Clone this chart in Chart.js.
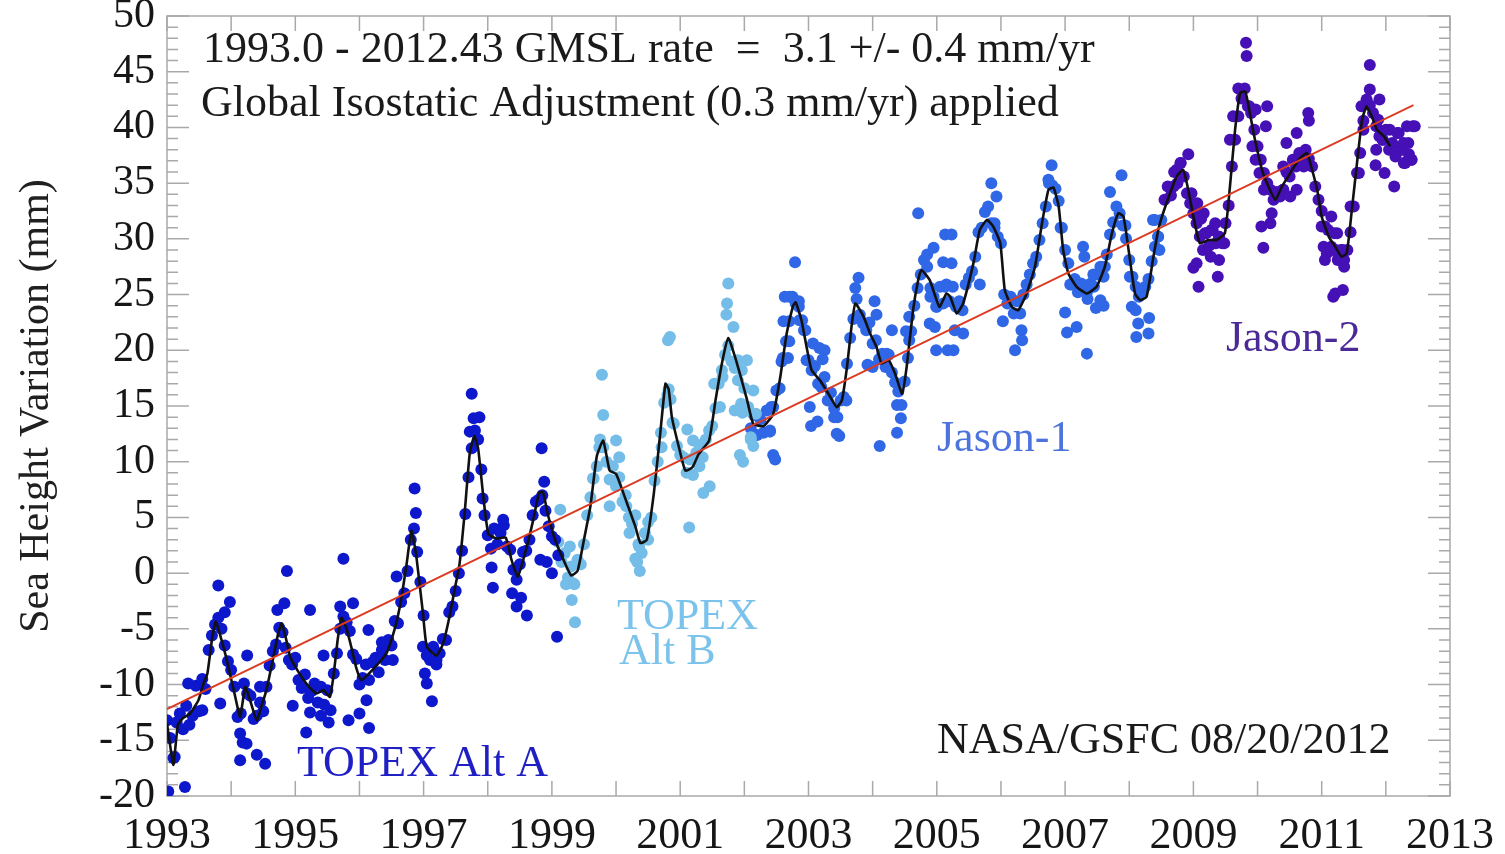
<!DOCTYPE html>
<html>
<head>
<meta charset="utf-8">
<title>Global Mean Sea Level 1993-2012</title>
<script src="https://cdn.jsdelivr.net/npm/chart.js@4.4.1/dist/chart.umd.min.js"></script>
<style>
  html, body { margin: 0; padding: 0; background: #fff; }
  canvas { display: block; }
</style>
</head>
<body>
<canvas id="gmsl" width="1505" height="854"></canvas>
<script>
// regular cycle samples are spaced this far apart (years)
var cycleStep = 0.05;

var xTickYears = [1993, 1995, 1997, 1999, 2001, 2003, 2005, 2007, 2009, 2011, 2013];
var yTickValues = [-20, -15, -10, -5, 0, 5, 10, 15, 20, 25, 30, 35, 40, 45, 50];

// TOPEX Alt A
var topexAStart = 1993.00;
var topexA = [
    -13.2, -14.8, -16.6, -13.4, -12.6, -14.0, -11.9, -13.6, -12.8, -10.1,
    -12.4, -9.5, -10.4, -6.9, -5.6, -4.6, -4.0, -5.0, -6.5, -7.9,
    -8.7, -10.2, -12.9, -12.6, -9.9, -10.8, -11.0, -13.1, -12.8, -11.6,
    -12.4, -10.2, -8.3, -7.0, -6.4, -4.9, -5.3, -6.7, -7.8, -8.2,
    -7.6, -9.6, -10.3, -9.1, -11.2, -10.6, -9.9, -11.6, -10.2, -11.8,
    -10.5, -12.3, -9.0, -7.2, -5.0, -3.9, -4.4, -5.2, -7.3, -7.7,
    -10.0, -9.4, -8.2, -9.6, -8.0, -7.6, -8.9, -6.9, -7.8, -6.0,
    -6.5, -4.3, -4.5, -2.6, -1.8, 0.2, 3.0, 4.0, 1.9, -0.8,
    -3.8, -7.4, -7.8, -6.6, -8.2, -7.2, -5.9, -6.0, -3.5, -3.0,
    -1.6, 0.0, 2.0, 5.3, 8.6, 11.2, 12.8, 12.0, 9.3, 5.2,
    3.4, 2.2, 4.0, 2.6, 3.6, 4.3, 2.4, 2.1, 0.3, -0.6,
    0.8, 1.9, 2.0, 3.0, 5.2, 6.4, 6.6, 7.0, 5.6, 4.2,
    3.3, 3.0, 1.6
];
var topexAExtra = [
    [1993.02, -19.6], [1993.28, -19.2], [1993.12, -16.5], [1993.33, -9.9], [1993.55, -12.3],
    [1993.80, -1.1], [1993.83, -11.7], [1993.98, -2.6], [1993.90, -3.5], [1994.14, -14.4],
    [1994.18, -15.2], [1994.24, -15.3], [1994.14, -16.8], [1994.40, -16.3], [1994.53, -17.1],
    [1994.25, -7.4], [1994.45, -10.2], [1994.87, 0.2], [1994.83, -2.7], [1994.72, -3.3],
    [1994.96, -11.9], [1995.17, -14.3], [1995.23, -12.5], [1995.23, -3.3], [1995.44, -7.4],
    [1995.52, -13.4], [1995.40, -12.8], [1995.75, 1.3], [1995.83, -13.2], [1995.90, -2.7],
    [1995.70, -3.0], [1996.00, -12.6], [1996.11, -11.4], [1996.15, -13.9], [1996.14, -5.1],
    [1996.35, -6.2], [1996.52, -7.8], [1996.58, -0.3], [1996.86, 7.6], [1996.88, 5.4],
    [1996.99, -6.6], [1997.02, -9.0], [1997.05, -9.9], [1997.13, -11.5], [1997.20, -7.8],
    [1997.75, 16.1], [1997.78, 13.9], [1997.87, 14.0], [1997.72, 12.7], [1997.92, 6.7],
    [1998.06, 0.5], [1998.08, -1.3], [1998.24, 4.8], [1998.38, -1.8], [1998.45, -3.0],
    [1998.61, -3.8], [1998.52, -2.2], [1998.84, 11.2], [1998.88, 8.2], [1998.82, 1.2],
    [1998.92, 1.0], [1999.00, 0.0], [1999.08, -5.7]
];

// TOPEX Alt B
var topexBStart = 1999.10;
var topexB = [
    2.8, 1.0, 1.8, -0.4, 0.6, -1.0, 1.2, 0.8, 2.6, 5.2,
    6.8, 8.5, 9.6, 12.0, 11.3, 10.0, 8.4, 9.6, 7.8, 8.6,
    6.4, 7.0, 5.0, 4.4, 5.2, 2.6, 1.8, 3.6, 4.6, 5.0,
    8.3, 10.0, 12.6, 15.3, 16.0, 15.6, 13.4, 11.4, 10.6, 10.4,
    9.0, 10.2, 8.8, 10.8, 11.5, 10.4, 12.0, 12.8, 13.2, 14.8,
    17.0, 18.2, 19.6, 20.4, 19.0, 18.4, 17.3, 15.2, 16.6, 14.6,
    12.2
];
var topexBExtra = [
    [1999.13, 5.7], [1999.28, 2.4], [1999.33, -0.9], [1999.31, -2.4], [1999.36, -4.4],
    [1999.22, -1.0], [1999.78, 17.8], [1999.80, 14.2], [1999.74, 11.3], [2000.00, 11.9],
    [2000.05, 10.4], [1999.64, 8.5], [1999.90, 6.0], [2000.16, 6.0], [2000.21, 3.6],
    [2000.36, 2.4], [2000.30, 1.3], [2000.37, 0.2], [2000.33, 1.0], [2000.50, 3.0],
    [2000.71, 11.3], [2000.82, 16.5], [2000.81, 20.9], [2000.84, 21.2], [2000.88, 13.5],
    [2001.11, 12.9], [2001.20, 11.9], [2001.30, 9.6], [2001.46, 7.8], [2001.36, 7.2],
    [2001.14, 4.1], [2001.53, 17.0], [2001.62, 14.9], [2001.66, 17.6], [2001.75, 26.0],
    [2001.73, 24.2], [2001.72, 23.2], [2001.83, 22.1], [2001.90, 19.1], [2001.96, 18.2],
    [2001.85, 14.6], [2001.97, 14.4], [2002.04, 19.1], [2002.14, 16.4], [2002.06, 14.9],
    [2002.18, 14.3], [2002.14, 11.4], [2001.93, 10.6], [2001.98, 10.0], [2002.10, 12.0]
];

// Jason-1
var jason1Start = 2002.10;
var jason1 = [
    13.0, 14.2, 12.4, 13.8, 12.6, 14.6, 12.8, 14.9, 16.4, 16.6,
    19.3, 20.8, 22.6, 24.8, 24.2, 23.9, 22.7, 21.8, 19.1, 18.2,
    18.6, 17.0, 16.7, 17.6, 15.5, 16.2, 14.8, 14.0, 15.5, 15.8,
    18.8, 21.1, 22.8, 24.6, 23.2, 22.4, 21.8, 22.5, 20.6, 20.9,
    19.2, 19.7, 18.5, 19.6, 18.0, 17.1, 16.3, 15.1, 17.2, 19.3,
    21.7, 24.0, 25.6, 26.8, 28.1, 27.5, 25.6, 24.8, 23.9, 25.7,
    24.2, 25.9, 24.4, 25.7, 23.9, 24.4, 23.6, 25.9, 26.5, 27.1,
    28.4, 30.6, 31.0, 32.4, 32.9, 31.4, 31.0, 30.2, 29.6, 25.0,
    24.2, 24.8, 23.3, 24.4, 23.3, 25.0, 25.9, 26.8, 27.8, 28.4,
    29.9, 31.4, 32.9, 35.0, 34.8, 34.5, 33.4, 31.0, 29.0, 27.8,
    25.9, 26.4, 25.2, 26.0, 25.4, 24.6, 26.0, 25.7, 26.8, 27.5,
    26.6, 28.6, 30.4, 31.5, 32.9, 32.3, 31.2, 30.0, 28.1, 26.6,
    25.7, 24.8, 25.2, 25.7, 26.4, 28.0, 29.3, 30.2, 31.7
];
var jason1Extra = [
    [2002.40, 12.7], [2002.45, 10.6], [2002.48, 10.2], [2002.42, 14.9], [2002.79, 27.9],
    [2002.63, 24.8], [2002.70, 24.8], [2002.85, 24.4], [2002.61, 22.6], [2002.70, 20.8],
    [2002.58, 19.0], [2002.68, 19.3], [2002.86, 22.7], [2002.93, 21.8], [2002.97, 19.1],
    [2003.07, 20.6], [2003.17, 20.2], [2003.25, 20.0], [2003.22, 19.2], [2003.02, 14.9],
    [2003.04, 13.2], [2003.14, 13.6], [2003.40, 14.0], [2003.48, 12.3], [2003.44, 12.5],
    [2003.59, 15.5], [2003.73, 25.6], [2003.78, 26.5], [2003.88, 22.4], [2004.03, 24.4],
    [2004.06, 23.2], [2003.92, 18.7], [2004.00, 18.5], [2004.22, 19.7], [2004.30, 21.8],
    [2004.38, 15.1], [2004.44, 13.9], [2004.38, 12.6], [2004.11, 11.4], [2004.52, 21.7],
    [2004.57, 20.9], [2004.57, 23.0], [2004.71, 32.3], [2004.85, 28.6], [2004.95, 29.2],
    [2005.13, 30.4], [2004.90, 24.8], [2004.99, 23.9], [2005.13, 25.7], [2005.10, 27.9],
    [2004.89, 22.4], [2004.97, 22.1], [2004.99, 20.0], [2005.17, 20.0], [2005.23, 30.4],
    [2005.23, 27.8], [2005.41, 21.5], [2005.28, 21.8], [2005.26, 20.0], [2005.85, 35.0],
    [2005.93, 33.8], [2005.90, 31.4], [2005.67, 25.9], [2006.03, 22.6], [2006.32, 21.8],
    [2006.33, 20.9], [2006.22, 20.0], [2006.79, 36.6], [2006.74, 35.3], [2006.93, 31.0],
    [2007.08, 25.9], [2007.00, 23.4], [2007.03, 21.6], [2007.18, 22.1], [2007.34, 19.7],
    [2007.28, 29.3], [2007.30, 28.4], [2007.44, 26.8], [2007.34, 25.2], [2007.62, 27.5],
    [2007.55, 24.5], [2007.60, 24.0], [2007.48, 23.8], [2007.88, 35.7], [2007.70, 34.2],
    [2007.94, 31.2], [2008.01, 26.6], [2008.04, 23.9], [2008.10, 23.6], [2008.14, 22.4],
    [2008.11, 21.2], [2008.31, 22.9], [2008.30, 21.5], [2008.37, 31.7], [2008.47, 29.0],
    [2008.40, 31.7], [2008.45, 30.2]
];

// Jason-2
var jason2Start = 2008.55;
var jason2 = [
    33.5, 34.7, 33.9, 36.0, 35.0, 36.8, 35.6, 34.1, 33.2, 32.3,
    31.4, 30.2, 29.0, 30.5, 29.4, 30.8, 29.6, 30.2, 29.6, 31.4,
    33.0, 36.5, 38.9, 41.0, 42.6, 43.5, 41.9, 41.3, 39.8, 38.3,
    37.1, 35.9, 35.0, 34.4, 33.5, 34.2, 33.8, 34.4, 36.0, 35.6,
    37.1, 36.5, 37.7, 37.1, 38.0, 37.2, 36.5, 34.7, 33.5, 32.5,
    31.1, 30.8, 29.3, 30.5, 28.7, 29.0, 28.1, 29.0, 30.6, 32.9,
    35.9, 37.7, 40.6, 42.5, 42.0, 41.3, 40.1, 39.2, 38.9, 39.8,
    38.0, 38.6, 37.4, 39.5, 38.0, 36.8, 38.6, 37.1, 40.1
];
var jason2Extra = [
    [2008.74, 36.2], [2008.80, 36.8], [2008.92, 37.6], [2008.69, 34.7], [2008.97, 34.1],
    [2009.06, 33.2], [2009.16, 32.3], [2009.12, 31.8], [2009.18, 30.5], [2009.28, 30.8],
    [2009.40, 30.2], [2009.34, 31.4], [2009.48, 29.6], [2009.00, 27.4], [2009.05, 27.8],
    [2009.08, 25.7], [2009.38, 26.6], [2009.40, 28.1], [2009.27, 28.4], [2009.57, 38.9],
    [2009.62, 41.0], [2009.70, 43.5], [2009.82, 47.6], [2009.83, 46.4], [2009.87, 41.9],
    [2009.97, 41.6], [2010.15, 41.9], [2010.13, 40.1], [2009.92, 38.3], [2009.97, 37.1],
    [2010.03, 35.9], [2010.10, 34.4], [2010.22, 32.3], [2010.20, 31.4], [2010.06, 31.1],
    [2010.09, 29.2], [2010.40, 36.5], [2010.45, 38.6], [2010.61, 39.5], [2010.79, 41.3],
    [2010.80, 40.6], [2010.72, 36.5], [2010.40, 34.4], [2010.51, 33.8], [2010.61, 34.4],
    [2011.00, 31.1], [2011.15, 32.0], [2011.24, 30.5], [2011.03, 29.3], [2011.08, 28.7],
    [2011.05, 28.1], [2011.22, 29.0], [2011.25, 28.1], [2011.33, 29.0], [2011.35, 27.5],
    [2011.18, 24.8], [2011.21, 25.1], [2011.33, 25.4], [2011.45, 32.9], [2011.58, 35.9],
    [2011.62, 41.9], [2011.75, 43.4], [2011.75, 45.6], [2011.90, 42.5], [2011.65, 39.8],
    [2011.88, 40.7], [2011.95, 38.9], [2012.06, 39.8], [2012.18, 39.5], [2012.33, 40.1],
    [2012.28, 38.6], [2012.23, 38.0], [2012.28, 36.8], [2012.13, 34.7], [2011.98, 35.9],
    [2011.84, 36.6], [2011.85, 38.0], [2012.42, 40.1], [2012.40, 37.1], [2012.36, 37.6]
];

// 60-day smoothed curve (black)
var smoothYears = [
    1993.00, 1993.05, 1993.10, 1993.17, 1993.25, 1993.36, 1993.49, 1993.57, 1993.63, 1993.70,
    1993.76, 1993.85, 1993.92, 1993.98, 1994.06, 1994.14, 1994.22, 1994.30, 1994.40, 1994.48,
    1994.55, 1994.66, 1994.73, 1994.79, 1994.86, 1994.92, 1995.02, 1995.13, 1995.23, 1995.33,
    1995.44, 1995.54, 1995.60, 1995.66, 1995.72, 1995.80, 1995.88, 1995.95, 1996.03, 1996.20,
    1996.42, 1996.55, 1996.63, 1996.73, 1996.81, 1996.88, 1996.99, 1997.05, 1997.20, 1997.30,
    1997.40, 1997.50, 1997.56, 1997.64, 1997.72, 1997.79, 1997.85, 1997.93, 1998.01, 1998.14,
    1998.28, 1998.37, 1998.47, 1998.61, 1998.71, 1998.80, 1998.86, 1998.94, 1999.05, 1999.18,
    1999.30, 1999.40, 1999.50, 1999.60, 1999.70, 1999.80, 1999.90, 2000.00, 2000.15, 2000.30,
    2000.38, 2000.48, 2000.59, 2000.69, 2000.77, 2000.82, 2000.87, 2000.98, 2001.08, 2001.19,
    2001.29, 2001.45, 2001.55, 2001.66, 2001.75, 2001.85, 2001.93, 2002.04, 2002.14, 2002.30,
    2002.45, 2002.56, 2002.66, 2002.76, 2002.80, 2002.89, 2002.97, 2003.05, 2003.18, 2003.31,
    2003.44, 2003.52, 2003.60, 2003.67, 2003.73, 2003.86, 2003.96, 2004.06, 2004.14, 2004.25,
    2004.35, 2004.46, 2004.53, 2004.63, 2004.71, 2004.76, 2004.89, 2005.04, 2005.15, 2005.21,
    2005.31, 2005.41, 2005.57, 2005.67, 2005.78, 2005.88, 2005.99, 2006.06, 2006.17, 2006.27,
    2006.40, 2006.53, 2006.64, 2006.74, 2006.82, 2006.90, 2006.97, 2007.05, 2007.18, 2007.34,
    2007.49, 2007.62, 2007.73, 2007.83, 2007.91, 2007.99, 2008.09, 2008.17, 2008.27, 2008.38,
    2008.46, 2008.58, 2008.74, 2008.84, 2008.92, 2009.00, 2009.10, 2009.23, 2009.36, 2009.49,
    2009.57, 2009.65, 2009.73, 2009.81, 2009.88, 2009.96, 2010.07, 2010.17, 2010.28, 2010.38,
    2010.51, 2010.64, 2010.77, 2010.85, 2010.93, 2011.00, 2011.11, 2011.21, 2011.31, 2011.39,
    2011.47, 2011.55, 2011.63, 2011.70, 2011.78, 2011.86, 2011.97, 2012.07
];
var smoothValues = [
    -13.5, -15.5, -17.2, -13.6, -13.0, -12.6, -11.4, -9.9, -9.0, -6.0,
    -4.3, -6.0, -7.5, -9.0, -11.0, -12.9, -10.2, -11.5, -13.2, -11.8,
    -10.5, -7.5, -5.5, -4.5, -6.0, -7.5, -8.6, -9.6, -10.3, -10.8,
    -10.5, -11.1, -9.0, -6.0, -4.0, -5.0, -6.8, -8.5, -9.6, -8.7,
    -7.2, -5.0, -3.0, 0.6, 3.8, 1.8, -3.6, -6.6, -7.4, -6.4,
    -4.0, -1.0, 0.8, 5.4, 10.8, 12.3, 11.2, 6.9, 3.5, 3.1,
    3.2, 1.2, -0.3, 2.4, 4.8, 7.2, 7.3, 5.2, 3.0, 1.2,
    -0.2, 0.2, 3.0, 6.0, 10.5, 11.9, 9.2, 8.9, 6.6, 4.2,
    2.7, 3.0, 7.2, 12.6, 17.0, 16.5, 14.0, 11.3, 9.2, 9.5,
    10.7, 11.9, 15.5, 19.1, 21.1, 19.5, 17.9, 15.6, 13.4, 13.2,
    14.3, 17.6, 21.5, 24.0, 24.3, 22.7, 20.3, 18.2, 17.3, 16.1,
    14.9, 15.5, 18.5, 22.1, 24.2, 23.0, 21.5, 20.3, 18.8, 19.1,
    17.9, 16.1, 18.5, 23.6, 26.3, 27.2, 26.3, 23.9, 25.1, 24.8,
    23.3, 24.2, 27.8, 30.8, 31.7, 31.1, 29.6, 25.4, 23.9, 23.6,
    25.1, 27.5, 31.4, 34.4, 34.6, 32.9, 29.0, 26.9, 25.7, 25.1,
    25.7, 27.5, 30.5, 32.3, 32.0, 29.0, 25.1, 24.5, 24.8, 28.5,
    31.0, 33.2, 35.6, 36.2, 34.4, 32.0, 29.6, 29.9, 29.9, 30.5,
    34.7, 39.8, 43.1, 43.2, 41.3, 38.9, 36.2, 34.7, 33.5, 34.7,
    35.9, 37.1, 37.7, 36.2, 34.4, 32.0, 30.2, 29.3, 28.4, 28.7,
    32.6, 36.8, 40.7, 41.9, 41.0, 39.8, 39.2, 38.3
];

// linear trend (red)
var trendYears = [1993.0, 2012.43];
var trendValues = [-12.2, 42.0];

var serif = "'Liberation Serif', 'Times New Roman', serif";

function cyclePoints(start, values, extra) {
    var pts = values.map(function(v, i) {
        return { x: +(start + i * cycleStep).toFixed(2), y: v };
    });
    extra.forEach(function(p) {
        pts.push({ x: p[0], y: p[1] });
    });
    return pts;
}

function pairs(xs, ys) {
    return xs.map(function(x, i) { return { x: x, y: ys[i] }; });
}

function dots(label, data, color) {
    return {
        label: label,
        data: data,
        showLine: false,
        pointRadius: 6,
        pointBorderWidth: 0,
        pointBackgroundColor: color,
        backgroundColor: color,
        order: 3
    };
}

var notes = [
    { text: '1993.0 - 2012.43 GMSL rate  =  3.1 +/- 0.4 mm/yr', x: 203, y: 62, color: '#1a1a1a' },
    { text: 'Global Isostatic Adjustment (0.3 mm/yr) applied', x: 201, y: 116, color: '#1a1a1a' },
    { text: 'NASA/GSFC 08/20/2012', x: 937, y: 753, color: '#1a1a1a' },
    { text: 'TOPEX Alt A', x: 297, y: 776, color: '#1f1fc4' },
    { text: 'TOPEX', x: 617, y: 629, color: '#7cc3ec' },
    { text: 'Alt B', x: 619, y: 664, color: '#7cc3ec' },
    { text: 'Jason-1', x: 937, y: 451, color: '#4d74dc' },
    { text: 'Jason-2', x: 1226, y: 351, color: '#4b2a98' }
];

var frame = {
    id: 'frame',
    beforeDatasetsDraw: function(chart) {
        var ctx = chart.ctx, a = chart.chartArea;
        var xs = chart.scales.x, ys = chart.scales.y;
        ctx.save();
        ctx.strokeStyle = '#a9a9a9';
        ctx.lineWidth = 1.5;
        ctx.strokeRect(a.left, a.top, a.right - a.left, a.bottom - a.top);
        ctx.beginPath();
        for (var yr = xs.min; yr <= xs.max; yr++) {
            var px = xs.getPixelForValue(yr);
            ctx.moveTo(px, a.bottom); ctx.lineTo(px, a.bottom - 15);
            ctx.moveTo(px, a.top); ctx.lineTo(px, a.top + 15);
        }
        for (var v = ys.min; v <= ys.max; v++) {
            var py = ys.getPixelForValue(v);
            var len = (v % 5 === 0) ? 22 : 11;
            ctx.moveTo(a.left, py); ctx.lineTo(a.left + len, py);
            ctx.moveTo(a.right, py); ctx.lineTo(a.right - len, py);
        }
        ctx.stroke();
        ctx.restore();
    },
    afterDraw: function(chart) {
        var ctx = chart.ctx;
        ctx.save();
        ctx.font = '44px ' + serif;
        ctx.textAlign = 'left';
        ctx.textBaseline = 'alphabetic';
        notes.forEach(function(n) {
            ctx.fillStyle = n.color;
            ctx.fillText(n.text, n.x, n.y);
        });
        ctx.restore();
    }
};

new Chart(document.getElementById('gmsl'), {
    type: 'scatter',
    data: {
        datasets: [
            {
                label: 'trend',
                type: 'line',
                data: pairs(trendYears, trendValues),
                borderColor: '#dc3b22',
                borderWidth: 1.8,
                pointRadius: 0,
                fill: false,
                order: 1
            },
            {
                label: 'smoothed',
                type: 'line',
                data: pairs(smoothYears, smoothValues),
                borderColor: '#111111',
                borderWidth: 2.6,
                borderJoinStyle: 'round',
                pointRadius: 0,
                tension: 0.15,
                fill: false,
                order: 2
            },
            dots('TOPEX Alt A', cyclePoints(topexAStart, topexA, topexAExtra), '#0d17cc'),
            dots('TOPEX Alt B', cyclePoints(topexBStart, topexB, topexBExtra), '#74bde8'),
            dots('Jason-1', cyclePoints(jason1Start, jason1, jason1Extra), '#2f67e6'),
            dots('Jason-2', cyclePoints(jason2Start, jason2, jason2Extra), '#4510b5')
        ]
    },
    options: {
        responsive: false,
        animation: false,
        layout: { padding: { top: 16, right: 55, left: 0, bottom: 0 } },
        plugins: {
            legend: { display: false },
            tooltip: { enabled: false }
        },
        scales: {
            x: {
                type: 'linear',
                min: xTickYears[0],
                max: xTickYears[xTickYears.length - 1],
                grid: { display: false, drawTicks: false },
                border: { display: false },
                afterBuildTicks: function(scale) {
                    scale.ticks = xTickYears.map(function(v) { return { value: v }; });
                },
                ticks: {
                    autoSkip: false,
                    maxRotation: 0,
                    padding: 14,
                    color: '#161616',
                    font: { family: serif, size: 44 },
                    callback: function(value) { return String(value); }
                },
                afterFit: function(scale) {
                    scale.height = 58;
                    scale.paddingLeft = 0;
                    scale.paddingRight = 0;
                }
            },
            y: {
                min: yTickValues[0],
                max: yTickValues[yTickValues.length - 1],
                grid: { display: false, drawTicks: false },
                border: { display: false },
                afterBuildTicks: function(scale) {
                    scale.ticks = yTickValues.map(function(v) { return { value: v }; });
                },
                ticks: {
                    autoSkip: false,
                    padding: 12,
                    color: '#161616',
                    font: { family: serif, size: 42, lineHeight: 1 },
                    callback: function(value) { return String(value); }
                },
                title: {
                    display: true,
                    text: 'Sea Height Variation (mm)',
                    color: '#202020',
                    font: { family: serif, size: 42 },
                    padding: { top: 12, bottom: 0 }
                },
                afterFit: function(scale) {
                    scale.width = 167;
                    scale.paddingTop = 0;
                    scale.paddingBottom = 0;
                }
            }
        }
    },
    plugins: [frame]
});
</script>
</body>
</html>
